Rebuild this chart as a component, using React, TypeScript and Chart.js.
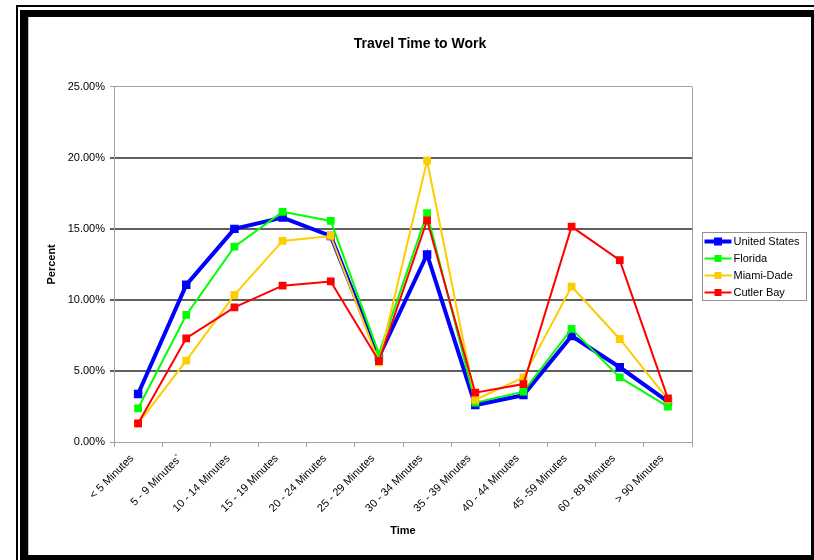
import React, { useEffect, useRef } from "react";
import { Chart, registerables } from "chart.js";

Chart.register(...registerables);

const categories = [
  "< 5 Minutes",
  "5 - 9 Minutes`",
  "10 - 14 Minutes",
  "15 - 19 Minutes",
  "20 - 24 Minutes",
  "25 - 29 Minutes",
  "30 - 34 Minutes",
  "35 - 39 Minutes",
  "40 - 44 Minutes",
  "45 -59 Minutes",
  "60 - 89 Minutes",
  "> 90 Minutes",
];

const unitedStates = [3.38, 11.06, 15.0, 15.8, 14.5, 6.0, 13.2, 2.6, 3.3, 7.46, 5.26, 2.85];
const florida = [2.37, 8.94, 13.75, 16.2, 15.56, 6.2, 16.1, 2.77, 3.54, 7.96, 4.55, 2.49];
const miamiDade = [1.3, 5.73, 10.35, 14.15, 14.5, 5.6, 19.8, 2.96, 4.55, 10.94, 7.25, 3.0];
const cutlerBay = [1.31, 7.3, 9.48, 11.0, 11.3, 5.7, 15.6, 3.47, 4.08, 15.16, 12.8, 3.07];

const seriesNames = ["United States", "Florida", "Miami-Dade", "Cutler Bay"];
const seriesColors = ["#0000FF", "#00FF00", "#FFCC00", "#FF0000"];
const seriesWidths = [4, 2, 2, 2];
const yTicks = [0, 5, 10, 15, 20, 25];

const FONT = "'Liberation Sans', Arial, sans-serif";

const frameAndLegend = {
  id: "frameAndLegend",
  beforeDatasetsDraw(chart: any) {
    const { ctx, chartArea } = chart;
    ctx.save();
    ctx.strokeStyle = "#a0a0a0";
    ctx.lineWidth = 1;
    ctx.beginPath();
    ctx.moveTo(chartArea.right + 0.5, chartArea.top);
    ctx.lineTo(chartArea.right + 0.5, chartArea.bottom);
    ctx.stroke();
    ctx.restore();
  },
  afterDraw(chart: any) {
    const { ctx, chartArea } = chart;
    const ds = chart.data.datasets;
    const boxX = chartArea.right + 10.5;
    const rowH = 17;
    const boxW = 104;
    const boxH = 68;
    const boxY = Math.round((chartArea.top + chartArea.bottom) / 2 - boxH / 2 + 2) + 0.5;
    ctx.save();
    ctx.fillStyle = "#ffffff";
    ctx.fillRect(boxX, boxY, boxW, boxH);
    ctx.strokeStyle = "#909090";
    ctx.lineWidth = 1;
    ctx.strokeRect(boxX, boxY, boxW, boxH);
    ctx.font = `11px ${FONT}`;
    ctx.textBaseline = "middle";
    ctx.textAlign = "left";
    seriesNames.forEach((name, row) => {
      const d = ds.find((x: any) => x.label === name);
      const y = boxY + 9 + row * rowH;
      const x0 = boxX + 2;
      const x1 = boxX + 29;
      ctx.strokeStyle = d.borderColor;
      ctx.lineWidth = d.borderWidth;
      ctx.beginPath();
      ctx.moveTo(x0, y);
      ctx.lineTo(x1, y);
      ctx.stroke();
      ctx.fillStyle = d.borderColor;
      const s = row === 0 ? 8 : 7;
      ctx.fillRect((x0 + x1) / 2 - s / 2, y - s / 2, s, s);
      ctx.fillStyle = "#000000";
      ctx.fillText(d.label, x1 + 2, y + 0.5);
    });
    ctx.restore();
  },
};

export default function App() {
  const ref = useRef<HTMLCanvasElement | null>(null);

  useEffect(() => {
    if (!ref.current) return;
    const seriesData = [unitedStates, florida, miamiDade, cutlerBay];
    const chart = new Chart(ref.current, {
      type: "line",
      data: {
        labels: categories,
        datasets: seriesNames.map((name, i) => ({
          label: name,
          data: seriesData[i],
          borderColor: seriesColors[i],
          backgroundColor: seriesColors[i],
          borderWidth: seriesWidths[i],
          pointStyle: "rect",
          pointRadius: i === 0 ? 6 : 5.5,
          pointBorderWidth: 0,
          pointBackgroundColor: seriesColors[i],
          pointBorderColor: seriesColors[i],
          tension: 0,
          fill: false,
          order: 4 - i,
          yAxisID: "y",
        })),
      },
      plugins: [frameAndLegend],
      options: {
        responsive: false,
        animation: false,
        devicePixelRatio: 1,
        layout: { padding: 0 },
        plugins: {
          legend: { display: false },
          tooltip: { enabled: false },
          title: {
            display: true,
            text: "Travel Time to Work",
            color: "#000000",
            font: { family: FONT, size: 14, weight: "bold" },
            padding: { top: 19, bottom: 34 },
          },
        },
        scales: {
          x: {
            type: "category",
            offset: true,
            afterFit(scale: any) {
              scale.height = 113;
            },
            grid: {
              display: true,
              offset: true,
              drawOnChartArea: false,
              drawTicks: true,
              tickLength: 5,
              color: "#a0a0a0",
              lineWidth: 1,
            },
            border: { display: true, color: "#a0a0a0", width: 1 },
            ticks: {
              autoSkip: false,
              minRotation: 45,
              maxRotation: 45,
              padding: 5,
              labelOffset: -6,
              color: "#000000",
              font: { family: FONT, size: 11 },
            },
            title: {
              display: true,
              text: "Time",
              color: "#000000",
              font: { family: FONT, size: 11, weight: "bold" },
              padding: { top: 0, bottom: 17 },
            },
          },
          y: {
            min: 0,
            max: 25,
            afterFit(scale: any) {
              scale.width = 85;
            },
            afterBuildTicks(scale: any) {
              scale.ticks = yTicks.map((v) => ({ value: v }));
            },
            grid: {
              drawTicks: true,
              tickLength: 4,
              color: (c: any) =>
                c.tick && (c.tick.value === 0 || c.tick.value === 25) ? "#a0a0a0" : "#606060",
              lineWidth: (c: any) =>
                c.tick && (c.tick.value === 0 || c.tick.value === 25) ? 1 : 2,
            },
            border: { display: true, color: "#a0a0a0", width: 1 },
            ticks: {
              padding: 5,
              color: "#000000",
              font: { family: FONT, size: 11 },
              callback: (v: any) => Number(v).toFixed(2) + "%",
            },
            title: {
              display: true,
              text: "Percent",
              color: "#000000",
              font: { family: FONT, size: 11, weight: "bold" },
              padding: { top: 16, bottom: 0 },
            },
          },
          legendSpace: {
            type: "linear",
            position: "right",
            display: true,
            min: 0,
            max: 1,
            afterFit(scale: any) {
              scale.width = 119;
            },
            grid: { display: false, drawTicks: false },
            border: { display: false },
            ticks: { display: false },
          },
        },
      } as any,
    });
    return () => chart.destroy();
  }, []);

  const box = (l: number, t: number, w: number, h: number, c: string) => (
    <div
      style={{ position: "absolute", left: l, top: t, width: w, height: h, background: c }}
    />
  );

  return (
    <div style={{ position: "absolute", left: 0, top: 0, width: 814, height: 560, background: "#ffffff" }}>
      {box(16, 5, 798, 2, "#000")}
      {box(16, 5, 2, 555, "#000")}
      {box(20, 10, 794, 7, "#000")}
      {box(20, 10, 8, 550, "#000")}
      {box(28, 17, 1, 538, "#c0c0c0")}
      {box(811, 10, 3, 550, "#000")}
      {box(20, 555, 794, 5, "#000")}
      <canvas
        ref={ref}
        width={782}
        height={538}
        style={{ position: "absolute", left: 29, top: 17, width: 782, height: 538 }}
      />
    </div>
  );
}
